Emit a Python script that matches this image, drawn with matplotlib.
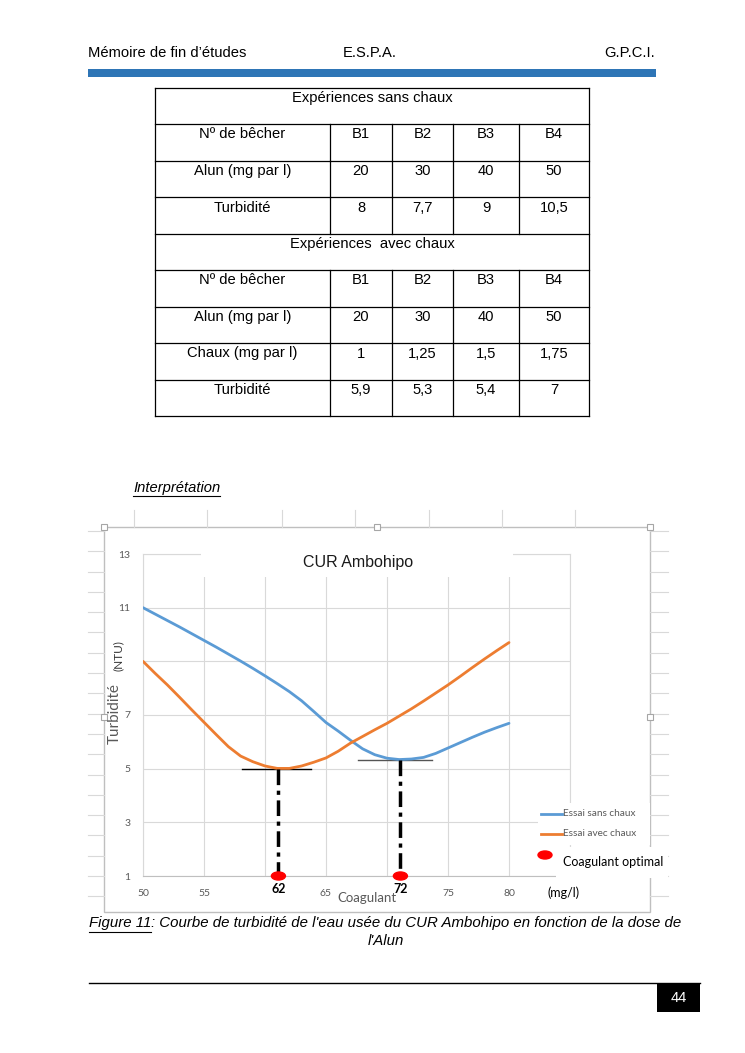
import matplotlib
matplotlib.use('Agg')
import matplotlib.pyplot as plt
from matplotlib.patches import Rectangle, Ellipse

plt.rcParams['font.family'] = ['Liberation Sans', 'DejaVu Sans']

# table values
beakers = ['B1', 'B2', 'B3', 'B4']
alun = [20, 30, 40, 50]
turb_sans_tab = [8, 7.7, 9, 10.5]
chaux = [1, 1.25, 1.5, 1.75]
turb_avec_tab = [5.9, 5.3, 5.4, 7]

# curves
dose = list(range(50, 81))
turb_sans = [11.00, 10.76, 10.52, 10.28, 10.03, 9.78, 9.53, 9.27, 9.01, 8.74,
             8.46, 8.17, 7.87, 7.53, 7.13, 6.72, 6.40, 6.06, 5.74, 5.52,
             5.39, 5.34, 5.36, 5.42, 5.57, 5.77, 5.97, 6.17, 6.36, 6.53, 6.69]
turb_avec = [9.00, 8.55, 8.12, 7.66, 7.19, 6.73, 6.27, 5.82, 5.47, 5.26,
             5.10, 5.01, 5.01, 5.10, 5.24, 5.40, 5.65, 5.95, 6.20, 6.45,
             6.69, 6.96, 7.23, 7.52, 7.82, 8.12, 8.44, 8.77, 9.09, 9.40, 9.70]
# optimum: where it is drawn on the dose axis, and the value written under it
opt_pos = [61.1, 71.1]
opt_label = ['62', '72']
opt_turb = [5.0, 5.32]

W, H = 745, 1053
fig = plt.figure(figsize=(W / 100, H / 100), dpi=100)

page = fig.add_axes([0, 0, 1, 1], zorder=0)
page.set_xlim(0, W)
page.set_ylim(H, 0)
page.axis('off')

top = fig.add_axes([0, 0, 1, 1], zorder=3)
top.set_xlim(0, W)
top.set_ylim(H, 0)
top.axis('off')
top.patch.set_alpha(0)

fs = 10.6

# page header
page.text(88, 53, 'Mémoire de fin d’études', fontsize=fs, va='center')
page.text(370, 53, 'E.S.P.A.', fontsize=fs, va='center', ha='center')
page.text(655, 53, 'G.P.C.I.', fontsize=fs, va='center', ha='right')
page.add_patch(Rectangle((88, 69), 568, 8, color='#2e75b6', lw=0))

# table
cols = [155, 330, 392, 453, 519, 589]
row_top = 87.5
row_h = 36.5
fmt = lambda v: f'{v:g}'.replace('.', ',')
rows = [
    ['Expériences sans chaux'],
    ['Nº de bêcher'] + beakers,
    ['Alun (mg par l)'] + [fmt(v) for v in alun],
    ['Turbidité'] + [fmt(v) for v in turb_sans_tab],
    ['Expériences  avec chaux'],
    ['Nº de bêcher'] + beakers,
    ['Alun (mg par l)'] + [fmt(v) for v in alun],
    ['Chaux (mg par l)'] + [fmt(v) for v in chaux],
    ['Turbidité'] + [fmt(v) for v in turb_avec_tab],
]
for i, row in enumerate(rows):
    y0 = row_top + i * row_h
    page.plot([cols[0], cols[-1]], [y0, y0], color='black', lw=0.9)
    if len(row) == 1:
        page.text((cols[0] + cols[-1]) / 2, y0 + 10.5, row[0], fontsize=fs,
                  ha='center', va='center')
    else:
        for j, txt in enumerate(row):
            page.text((cols[j] + cols[j + 1]) / 2, y0 + 10.5, txt, fontsize=fs,
                      ha='center', va='center')
        for x in cols[1:-1]:
            page.plot([x, x], [y0, y0 + row_h], color='black', lw=0.9)
y_end = row_top + len(rows) * row_h
page.plot([cols[0], cols[-1]], [y_end, y_end], color='black', lw=0.9)
page.plot([cols[0], cols[0]], [row_top, y_end], color='black', lw=0.9)
page.plot([cols[-1], cols[-1]], [row_top, y_end], color='black', lw=0.9)

# Interpretation heading
t0 = page.text(133, 488, 'Interprétation', fontsize=fs, style='italic', va='center')
r = fig.canvas.get_renderer()
b0 = t0.get_window_extent(r)
page.plot([b0.x0, b0.x1], [496, 496], color='black', lw=0.8)

# spreadsheet cells around the chart
for x in [134, 207, 282, 355, 429, 502, 575]:
    page.plot([x, x], [510, 527], color='#d9d9d9', lw=0.8)
y = 531
while y < 912:
    page.plot([88, 104], [y, y], color='#d9d9d9', lw=0.8)
    page.plot([650, 668], [y, y], color='#d9d9d9', lw=0.8)
    y += 20.3
page.add_patch(Rectangle((104, 527), 546, 385, fill=False, ec='#bfbfbf', lw=1))
for hx, hy in [(104, 527), (377, 527), (650, 527), (104, 717), (650, 717)]:
    top.add_patch(Rectangle((hx - 3, hy - 3), 6, 6, fc='white', ec='#a6a6a6', lw=0.8))

# chart
ax = fig.add_axes([143 / W, 1 - 876 / H, (570 - 143) / W, (876 - 554) / H], zorder=1)
ax.plot(dose, turb_sans, color='#5b9bd5', lw=2, solid_capstyle='round', zorder=3)
ax.plot(dose, turb_avec, color='#ed7d31', lw=2, solid_capstyle='round', zorder=3)
ax.set_xlim(50, 85)
ax.set_ylim(1, 13)
ax.set_xticks([50, 55, 60, 65, 70, 75, 80, 85])
ax.set_xticklabels(['50', '55', '', '65', '', '75', '80', ''])
ax.set_yticks([1, 3, 5, 7, 9, 11, 13])
ax.set_yticklabels(['1', '3', '5', '7', '', '11', '13'])
ax.tick_params(length=0, labelsize=7.5, labelcolor='#595959', pad=9)
for lab in ax.get_xticklabels() + ax.get_yticklabels():
    lab.set_family('Lato')
ax.grid(True, color='#d9d9d9', lw=0.8)
for s in ax.spines.values():
    s.set_color('#d9d9d9')
    s.set_linewidth(0.8)
ax.spines['bottom'].set_color('#bfbfbf')

# optimum marks
ax.plot([58.1, 63.8], [opt_turb[0], opt_turb[0]], color='black', lw=1, zorder=2)
ax.plot([67.6, 73.7], [opt_turb[1], opt_turb[1]], color='#555555', lw=1, zorder=2)
for xd, yd, lab in zip(opt_pos, opt_turb, opt_label):
    ax.plot([xd, xd], [yd, 1.12], color='black', lw=2.5,
            ls=(0, (4.5, 1.6, 1.2, 1.6)), zorder=4)
    ax.add_patch(Ellipse((xd, 1), 1.15, 0.3, color='#ff0000', clip_on=False, zorder=5))
    ax.text(xd, -0.04, lab, transform=ax.get_xaxis_transform(), ha='center',
            va='center', fontsize=9, fontweight='bold', family='Lato')

# title with its white box
top.add_patch(Rectangle((201, 548), 312, 29, fc='white', lw=0))
top.text(358, 562, 'CUR Ambohipo', fontsize=11.5, ha='center', va='center', color='#1a1a1a')

# axis titles
top.text(115, 714, 'Turbidité', rotation=90, fontsize=11, ha='center', va='center',
         color='#595959', family='Lato')
top.text(118, 656, '(NTU)', rotation=90, fontsize=8.5, ha='center', va='center',
         color='#333333', family='Lato')
top.text(367, 898, 'Coagulant', fontsize=9.5, ha='center', va='center',
         color='#595959', family='Lato')

# legend
top.add_patch(Rectangle((538, 803), 112, 42, fc='white', lw=0))
top.plot([541, 562], [814, 814], color='#5b9bd5', lw=2)
top.plot([541, 562], [834, 834], color='#ed7d31', lw=2)
top.text(563, 814, 'Essai sans chaux', fontsize=7.2, va='center', color='#595959', family='Lato')
top.text(563, 834, 'Essai avec chaux', fontsize=7.2, va='center', color='#595959', family='Lato')
top.add_patch(Rectangle((556, 847), 112, 31, fc='white', lw=0))
top.add_patch(Ellipse((545, 855), 14, 8, color='#ff0000'))
top.text(563, 862, 'Coagulant optimal', fontsize=9, va='center', family='Lato')
top.add_patch(Rectangle((538, 880), 62, 30, fc='white', lw=0))
top.text(548, 893, '(mg/l)', fontsize=9, va='center', family='Lato')

# caption
cfs = 10.8
t1 = page.text(89, 923, 'Figure 11', fontsize=cfs, style='italic', va='center')
bb = t1.get_window_extent(r)
page.text(bb.x1, 923, ': Courbe de turbidité de l\'eau usée du CUR Ambohipo en fonction de la dose de',
          fontsize=cfs, style='italic', va='center')
page.plot([bb.x0, bb.x1], [931.5, 931.5], color='black', lw=0.8)
page.text(386, 941, 'l\'Alun', fontsize=cfs, style='italic', va='center', ha='center')

# footer
page.plot([89, 700], [982.5, 982.5], color='black', lw=1)
page.add_patch(Rectangle((657, 983), 43, 29, color='black', lw=0))
page.text(678.5, 998, '44', fontsize=10.5, color='white', ha='center', va='center')

fig.savefig('out.png', dpi=100)
